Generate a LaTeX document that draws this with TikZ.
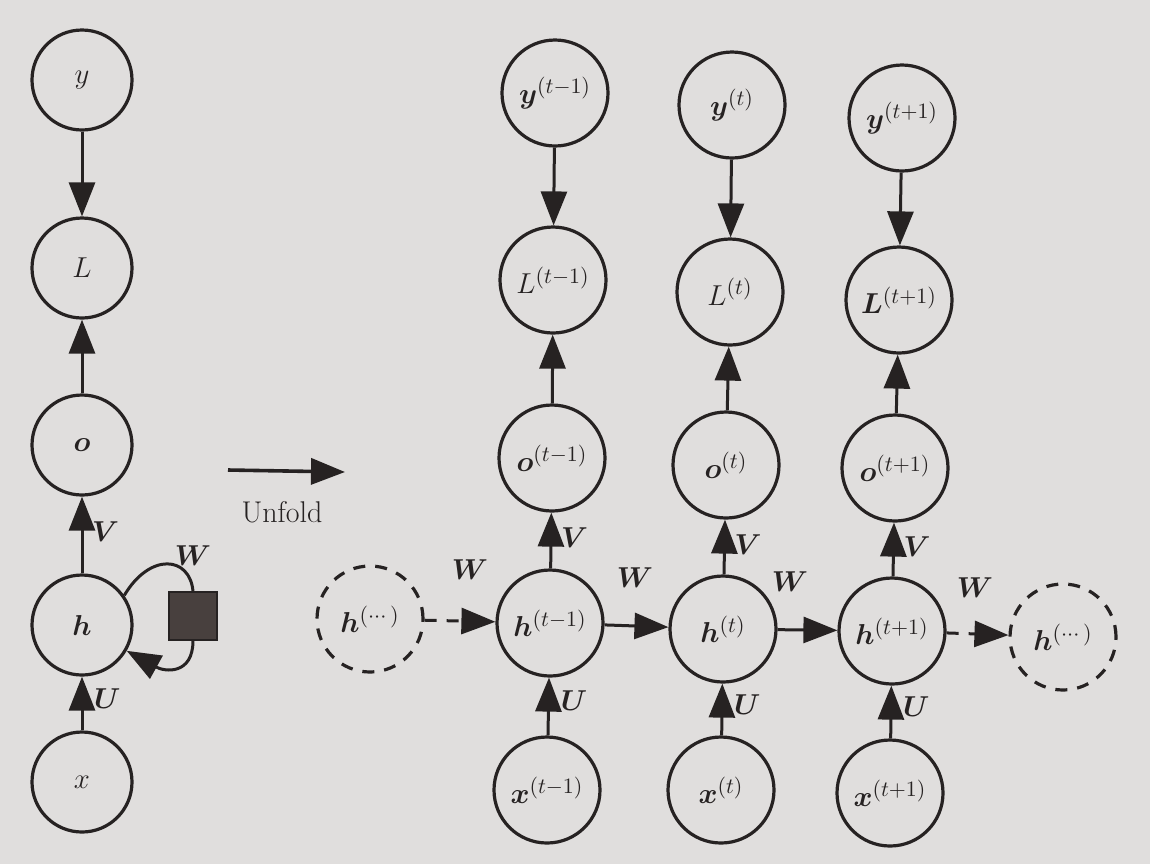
\documentclass[tikz,border=0pt]{standalone}
\usepackage{amsmath}
\usepackage{bm}
\usetikzlibrary{arrows.meta}
\definecolor{paper}{RGB}{224,222,221}
\definecolor{ink}{RGB}{38,34,34}
\definecolor{sqfill}{RGB}{72,64,62}
\begin{document}
\begin{tikzpicture}[x=0.5pt,y=-0.5pt,
  every node/.style={font=\fontsize{15}{18}\selectfont, text=ink},
  unit/.style={circle, draw=ink, line width=1.6pt, inner sep=0pt, minimum size=53pt},
  lunit/.style={circle, draw=ink, line width=1.6pt, inner sep=0pt, minimum size=50pt},
  dunit/.style={unit, dash pattern=on 6pt off 5pt},
  conn/.style={draw=ink, line width=1.5pt, -{Triangle[length=17pt,width=13pt]}},
  dconn/.style={conn, dash pattern=on 6pt off 5pt},
  wlab/.style={font=\fontsize{15}{18}\selectfont},
]
\fill[paper] (0,0) rectangle (1150,864);
\useasboundingbox (0,0) rectangle (1150,864);

% left folded graph
\node[lunit] (y)  at (82,80)  {$y$};
\node[lunit] (L)  at (82,268) {$L$};
\node[lunit] (o)  at (82,445) {$\bm{o}$};
\node[lunit] (h)  at (82,625) {$\bm{h}$};
\node[lunit] (x)  at (82,782) {$x$};
\node[rectangle, fill=sqfill, draw=ink, line width=0.6pt, minimum size=24pt, inner sep=0pt] (sq) at (193,616) {};

\draw[conn] (y) -- (L);
\draw[conn] (o) -- (L);
\draw[conn] (h) -- node[pos=0.55, right, xshift=1pt] {$\bm{V}$} (o);
\draw[conn] (x) -- node[pos=0.6, right, xshift=2pt] {$\bm{U}$} (h);
\draw[draw=ink, line width=1.5pt] (h.35) .. controls (150,552) and (190,556) .. (sq.north);
\draw[conn] (sq.south) .. controls (193,675) and (165,672) .. (h.-30);
\node[wlab] (wl) at (193,556) {$\bm{W}$};

% unfold arrow
\coordinate (ua) at (228,470);
\coordinate (ub) at (345,472);
\draw[conn, line width=1.8pt] (ua) -- (ub);
\node (unf) at (282,512) {Unfold};

% unfolded graph
\node[unit] (y1) at (555,93)  {$\bm{y}^{(t-1)}$};
\node[unit] (y2) at (732,105) {$\bm{y}^{(t)}$};
\node[unit] (y3) at (902,118) {$\bm{y}^{(t+1)}$};

\node[unit] (L1) at (553,280) {$L^{(t-1)}$};
\node[unit] (L2) at (730,292) {$L^{(t)}$};
\node[unit] (L3) at (899,300) {$\bm{L}^{(t+1)}$};

\node[unit] (o1) at (552,458) {$\bm{o}^{(t-1)}$};
\node[unit] (o2) at (726,465) {$\bm{o}^{(t)}$};
\node[unit] (o3) at (895,468) {$\bm{o}^{(t+1)}$};

\node[dunit] (hl) at (370,619) {$\bm{h}^{(\cdots)}$};
\node[unit] (h1) at (550,623) {$\bm{h}^{(t-1)}$};
\node[unit] (h2) at (723,629) {$\bm{h}^{(t)}$};
\node[unit] (h3) at (892,631) {$\bm{h}^{(t+1)}$};
\node[dunit] (hr) at (1063,637) {$\bm{h}^{(\cdots)}$};

\node[unit] (x1) at (547,790) {$\bm{x}^{(t-1)}$};
\node[unit] (x2) at (721,790) {$\bm{x}^{(t)}$};
\node[unit] (x3) at (890,793) {$\bm{x}^{(t+1)}$};

\foreach \i in {1,2,3} {
  \draw[conn] (y\i) -- (L\i);
  \draw[conn] (o\i) -- (L\i);
  \draw[conn] (h\i) -- node[pos=0.55, right, xshift=1pt] {$\bm{V}$} (o\i);
  \draw[conn] (x\i) -- node[pos=0.6, right, xshift=2pt] {$\bm{U}$} (h\i);
}
\draw[dconn] (hl) -- (h1);
\draw[conn] (h1) -- (h2);
\draw[conn] (h2) -- (h3);
\draw[dconn] (h3) -- (hr);

\node[wlab] (w1) at (470,570) {$\bm{W}$};
\node[wlab] (w2) at (635,578) {$\bm{W}$};
\node[wlab] (w3) at (790,582) {$\bm{W}$};
\node[wlab] (w4) at (975,588) {$\bm{W}$};
\end{tikzpicture}
\end{document}
